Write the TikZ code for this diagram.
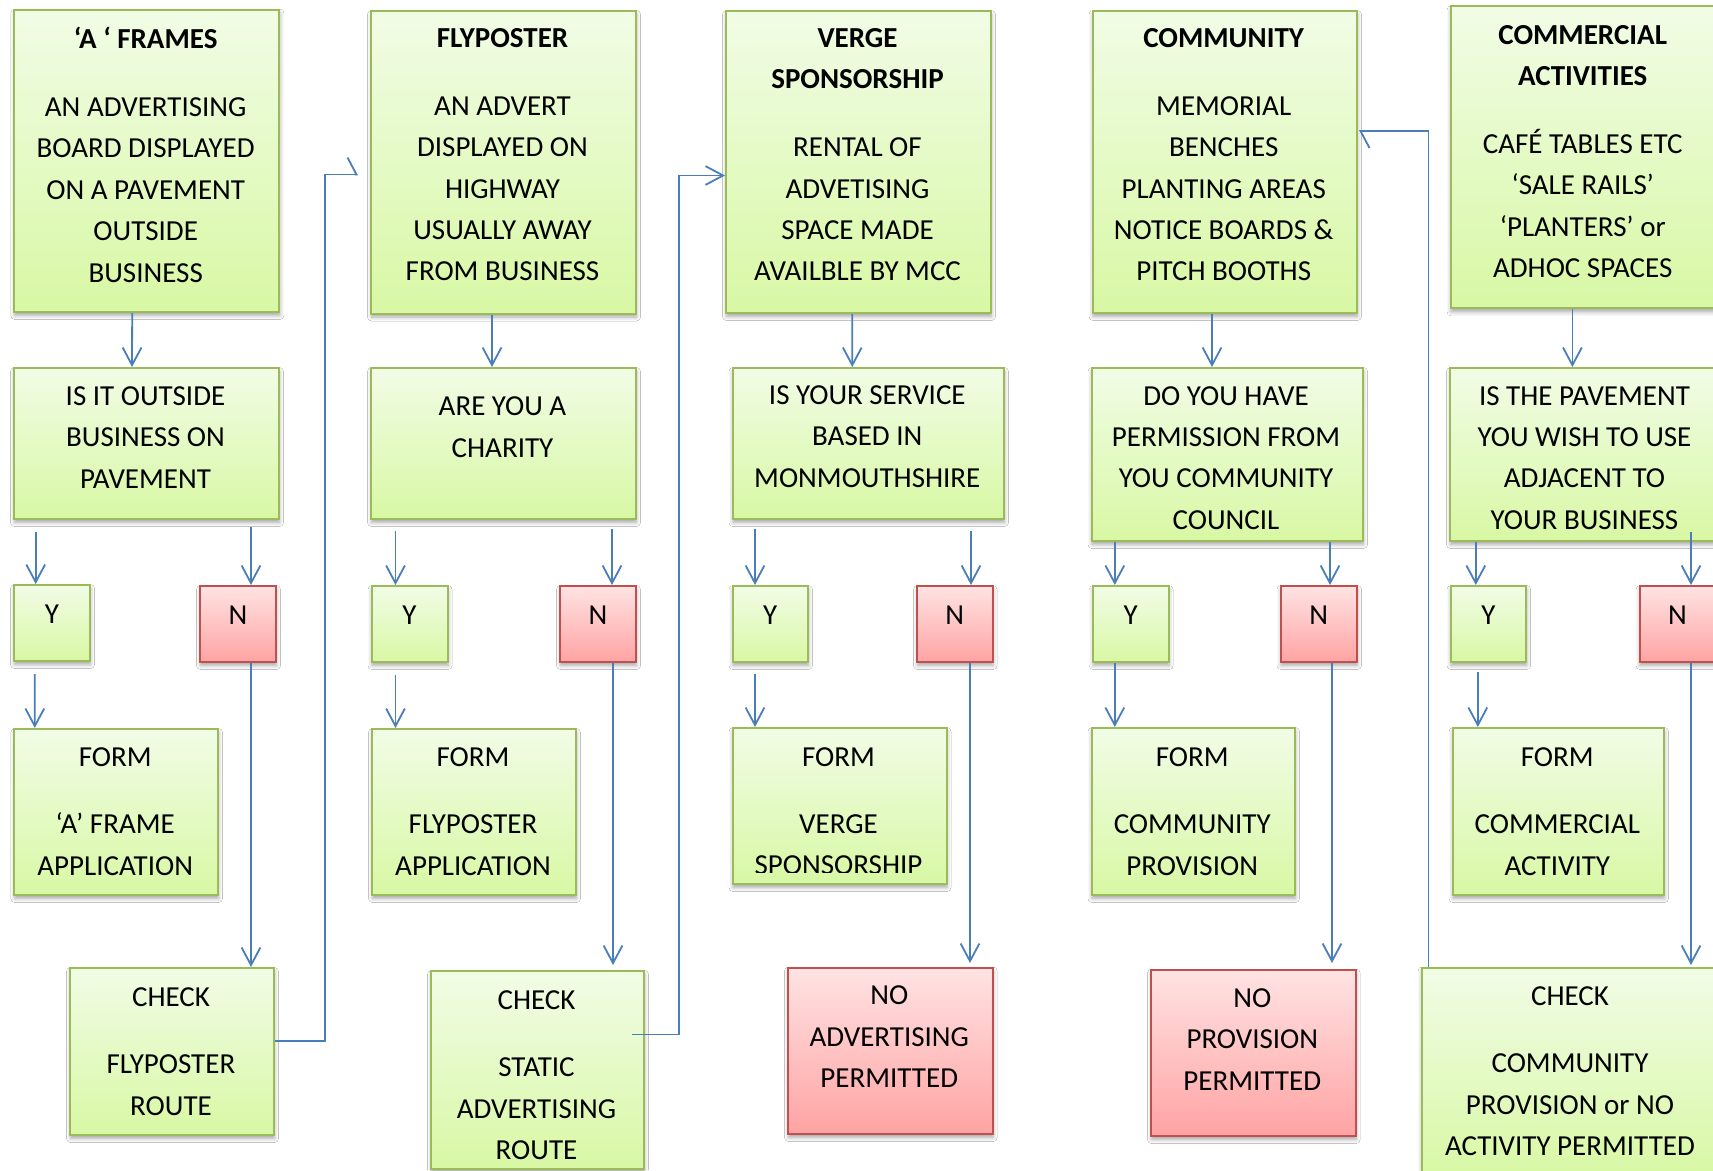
\documentclass[tikz,border=0pt]{standalone}
\usepackage{fontspec}
\setmainfont{Carlito}
\usetikzlibrary{arrows.meta,shadows.blur}
\definecolor{gborder}{HTML}{9BBB59}
\definecolor{gtop}{HTML}{F1FCE6}
\definecolor{gbot}{HTML}{D8F8A4}
\definecolor{rborder}{HTML}{C0504D}
\definecolor{rtop}{HTML}{FFE3E3}
\definecolor{rbot}{HTML}{FFA3A3}
\definecolor{lineblue}{HTML}{4A7EBB}
\tikzset{
  boxbase/.style={rectangle, anchor=north west, line width=2pt, inner sep=0pt,
    blur shadow={shadow xshift=0.5pt, shadow yshift=-3.5pt, shadow blur radius=4pt, shadow opacity=35}},
  gbox/.style={boxbase, draw=gborder, top color=gtop, bottom color=gbot},
  rbox/.style={boxbase, draw=rborder, top color=rtop, bottom color=rbot},
  txt/.style={align=center, inner sep=0pt, font=\fontsize{29}{41.4}\selectfont},
  arr/.style={draw=lineblue, line width=1.8pt, -{Straight Barb[length=17.6pt, width=18.8pt, line width=1.8pt]}},
  harp/.style={draw=lineblue, line width=1.8pt, -{Straight Barb[harpoon, length=9pt, width=34pt, line width=1.8pt]}},
}
\newcommand{\gb}[6]{\node[#1, minimum width=#4pt, minimum height=#5pt] (#6) at (#2,-#3) {};}
\begin{document}
\begin{tikzpicture}[x=1pt,y=1pt]
\clip (0,0) rectangle (1713,-1170);
\fill[white] (0,0) rectangle (1713,-1170);
% row 1
\gb{gbox}{13.4}{8.5}{265}{302.5}{af}
\gb{gbox}{370}{10}{265}{302.5}{fp}
\gb{gbox}{725}{10}{265}{302}{vs}
\gb{gbox}{1091.5}{10}{264.5}{302}{cm}
\gb{gbox}{1449.5}{5.4}{266.5}{302}{ca}
% row 2
\gb{gbox}{13}{367}{265}{151}{q1}
\gb{gbox}{370}{367}{265}{151}{q2}
\gb{gbox}{731.5}{367}{271.5}{151}{q3}
\gb{gbox}{1090.5}{367}{271.5}{173}{q4}
\gb{gbox}{1449}{367}{271}{173}{q5}
% row 3
\gb{gbox}{13}{584}{76}{76}{y1}
\gb{rbox}{199}{585}{76}{76}{n1}
\gb{gbox}{370.5}{585}{76}{76}{y2}
\gb{rbox}{559}{585}{76}{76}{n2}
\gb{gbox}{731.5}{585}{75.5}{76}{y3}
\gb{rbox}{916}{585}{75.5}{76}{n3}
\gb{gbox}{1091.7}{585}{75.8}{76}{y4}
\gb{rbox}{1279.5}{585}{76.5}{76}{n4}
\gb{gbox}{1449.5}{585}{75.7}{76}{y5}
\gb{rbox}{1638.5}{585}{76}{76}{n5}
% row 4
\gb{gbox}{13.4}{728}{203.6}{166}{f1}
\gb{gbox}{371}{728}{204}{166}{f2}
\gb{gbox}{731.5}{727}{214}{156}{f3}
\gb{gbox}{1090.5}{727}{203.5}{167}{f4}
\gb{gbox}{1451.5}{727}{211.5}{167}{f5}
% row 5
\gb{gbox}{69}{967}{204}{167}{c1}
\gb{gbox}{430}{970}{213}{198}{c2}
\gb{rbox}{787}{966.5}{204.6}{166.5}{c3}
\gb{rbox}{1150}{968.5}{204.6}{166.5}{c4}
\gb{gbox}{1420.5}{966.5}{300}{210}{c5}
% texts
\node[txt] (af-t) at (145.7,-154.6) {\textbf{‘A ‘ FRAMES}\\[26.8pt]AN ADVERTISING\\BOARD DISPLAYED\\ON A PAVEMENT\\OUTSIDE\\BUSINESS};
\node[txt] (fp-t) at (502.5,-154.6) {\textbf{FLYPOSTER}\\[26.8pt]AN ADVERT\\DISPLAYED ON\\HIGHWAY\\USUALLY AWAY\\FROM BUSINESS};
\node[txt] (vs-t) at (857.5,-154.6) {\textbf{VERGE}\\\textbf{SPONSORSHIP}\\[26.8pt]RENTAL OF\\ADVETISING\\SPACE MADE\\AVAILBLE BY MCC};
\node[txt] (cm-t) at (1223.7,-154.6) {\textbf{COMMUNITY}\\[26.8pt]MEMORIAL\\BENCHES\\PLANTING AREAS\\NOTICE BOARDS \&\\PITCH BOOTHS};
\node[txt] (ca-t) at (1582.7,-151.4) {\textbf{COMMERCIAL}\\\textbf{ACTIVITIES}\\[26.2pt]CAFÉ TABLES ETC\\‘SALE RAILS’\\‘PLANTERS’ or\\ADHOC SPACES};
\node[txt] (q1-t) at (145.5,-437.5) {IS IT OUTSIDE\\BUSINESS ON\\PAVEMENT};
\node[txt] (q2-t) at (502.5,-427.2) {ARE YOU A\\CHARITY};
\node[txt] (q3-t) at (867.3,-436.5) {IS YOUR SERVICE\\BASED IN\\MONMOUTHSHIRE};
\node[txt] (q4-t) at (1226,-457.8) {DO YOU HAVE\\PERMISSION FROM\\YOU COMMUNITY\\COUNCIL};
\node[txt] (q5-t) at (1584.5,-457.8) {IS THE PAVEMENT\\YOU WISH TO USE\\ADJACENT TO\\YOUR BUSINESS};
\foreach \b/\l in {y1/Y,y2/Y,y3/Y,y4/Y,y5/Y,n1/N,n2/N,n3/N,n4/N,n5/N}{
  \node[txt] (\b-t) at ([yshift=9pt]\b.center) {\l};
}
\node[txt] (f1-t) at (115.2,-811.7) {FORM\\[25.3pt]‘A’ FRAME\\APPLICATION};
\node[txt] (f2-t) at (473,-811.7) {FORM\\[25.3pt]FLYPOSTER\\APPLICATION};
\begin{scope}
\clip (f3.north west) rectangle ([yshift=12.5pt]f3.south east);
\node[txt] (f3-t) at (838.5,-811.5) {FORM\\[25.3pt]VERGE\\SPONSORSHIP};
\end{scope}
\node[txt] (f4-t) at (1192.2,-811.7) {FORM\\[25.3pt]COMMUNITY\\PROVISION};
\node[txt] (f5-t) at (1557.3,-811.7) {FORM\\[25.3pt]COMMERCIAL\\ACTIVITY};
\node[txt] (c1-t) at (171,-1051.5) {CHECK\\[26pt]FLYPOSTER\\ROUTE};
\node[txt] (c2-t) at (536.5,-1075) {CHECK\\[26pt]STATIC\\ADVERTISING\\ROUTE};
\node[txt] (c3-t) at (889.3,-1036.8) {NO\\ADVERTISING\\PERMITTED};
\node[txt] (c4-t) at (1252.3,-1039.5) {NO\\PROVISION\\PERMITTED};
\node[txt] (c5-t) at (1570,-1071.2) {CHECK\\[26pt]COMMUNITY\\PROVISION or NO\\ACTIVITY PERMITTED};
% top -> question
\draw[arr] ([xshift=-14.7pt]af.south) -- ([xshift=-14.5pt]q1.north);
\draw[arr] ([xshift=-11.5pt]fp.south) -- ([xshift=-11.5pt]q2.north);
\draw[arr] ([xshift=-6.2pt]vs.south) -- ([xshift=-16pt]q3.north);
\draw[arr] ([xshift=-12.75pt]cm.south) -- ([xshift=-15.25pt]q4.north);
\draw[arr] ([xshift=-11.35pt]ca.south) -- ([xshift=-13.1pt]q5.north);
% question -> Y/N
\draw[arr] ([shift={(22.7,-12)}]q1.south west) -- ([xshift=22.7pt]y1.north west);
\draw[arr] ([shift={(238,-7)}]q1.south west) -- ([xshift=52pt]n1.north west);
\draw[arr] ([shift={(25.5,-11)}]q2.south west) -- ([xshift=25pt]y2.north west);
\draw[arr] ([shift={(242,-9)}]q2.south west) -- ([xshift=53pt]n2.north west);
\draw[arr] ([shift={(23.5,-9)}]q3.south west) -- ([xshift=23.5pt]y3.north west);
\draw[arr] ([shift={(239.5,-11)}]q3.south west) -- ([xshift=55pt]n3.north west);
\draw[arr] ([xshift=24.3pt]q4.south west) -- ([xshift=23.1pt]y4.north west);
\draw[arr] ([xshift=239.5pt]q4.south west) -- ([xshift=50.5pt]n4.north west);
\draw[arr] ([xshift=26.8pt]q5.south west) -- ([xshift=26.3pt]y5.north west);
\draw[arr] ([shift={(242,10)}]q5.south west) -- ([xshift=52.5pt]n5.north west);
% Y -> form
\draw[arr] ([shift={(21.8,-12)}]y1.south west) -- ([xshift=21.4pt]f1.north west);
\draw[arr] ([shift={(25,-12)}]y2.south west) -- ([xshift=24.5pt]f2.north west);
\draw[arr] ([shift={(23.5,-11)}]y3.south west) -- ([xshift=23.5pt]f3.north west);
\draw[arr] ([xshift=23.1pt]y4.south west) -- ([xshift=24.3pt]f4.north west);
\draw[arr] ([shift={(28.3,-9)}]y5.south west) -- ([xshift=26.3pt]f5.north west);
% N -> bottom
\draw[arr] ([xshift=52pt]n1.south west) -- ([xshift=182pt]c1.north west);
\draw[arr] ([xshift=54pt]n2.south west) -- ([shift={(183,5)}]c2.north west);
\draw[arr] ([xshift=54pt]n3.south west) -- ([shift={(183,3.5)}]c3.north west);
\draw[arr] ([xshift=52.5pt]n4.south west) -- ([shift={(182,5.5)}]c4.north west);
\draw[arr] ([xshift=52.5pt]n5.south west) -- ([shift={(270.5,1.5)}]c5.north west);
% loops
\draw[harp] ([yshift=10.5pt]c1.east) -- ++(49.7,0) |- ([shift={(-12,-12.3)}]fp.west);
\draw[arr] ([shift={(-13,35.5)}]c2.east) -- ++(47,0) |- ([yshift=-13.5pt]vs.west);
\draw[harp] ([xshift=8pt]c5.north west) |- ([shift={(1,31)}]cm.east);
\end{tikzpicture}
\end{document}
